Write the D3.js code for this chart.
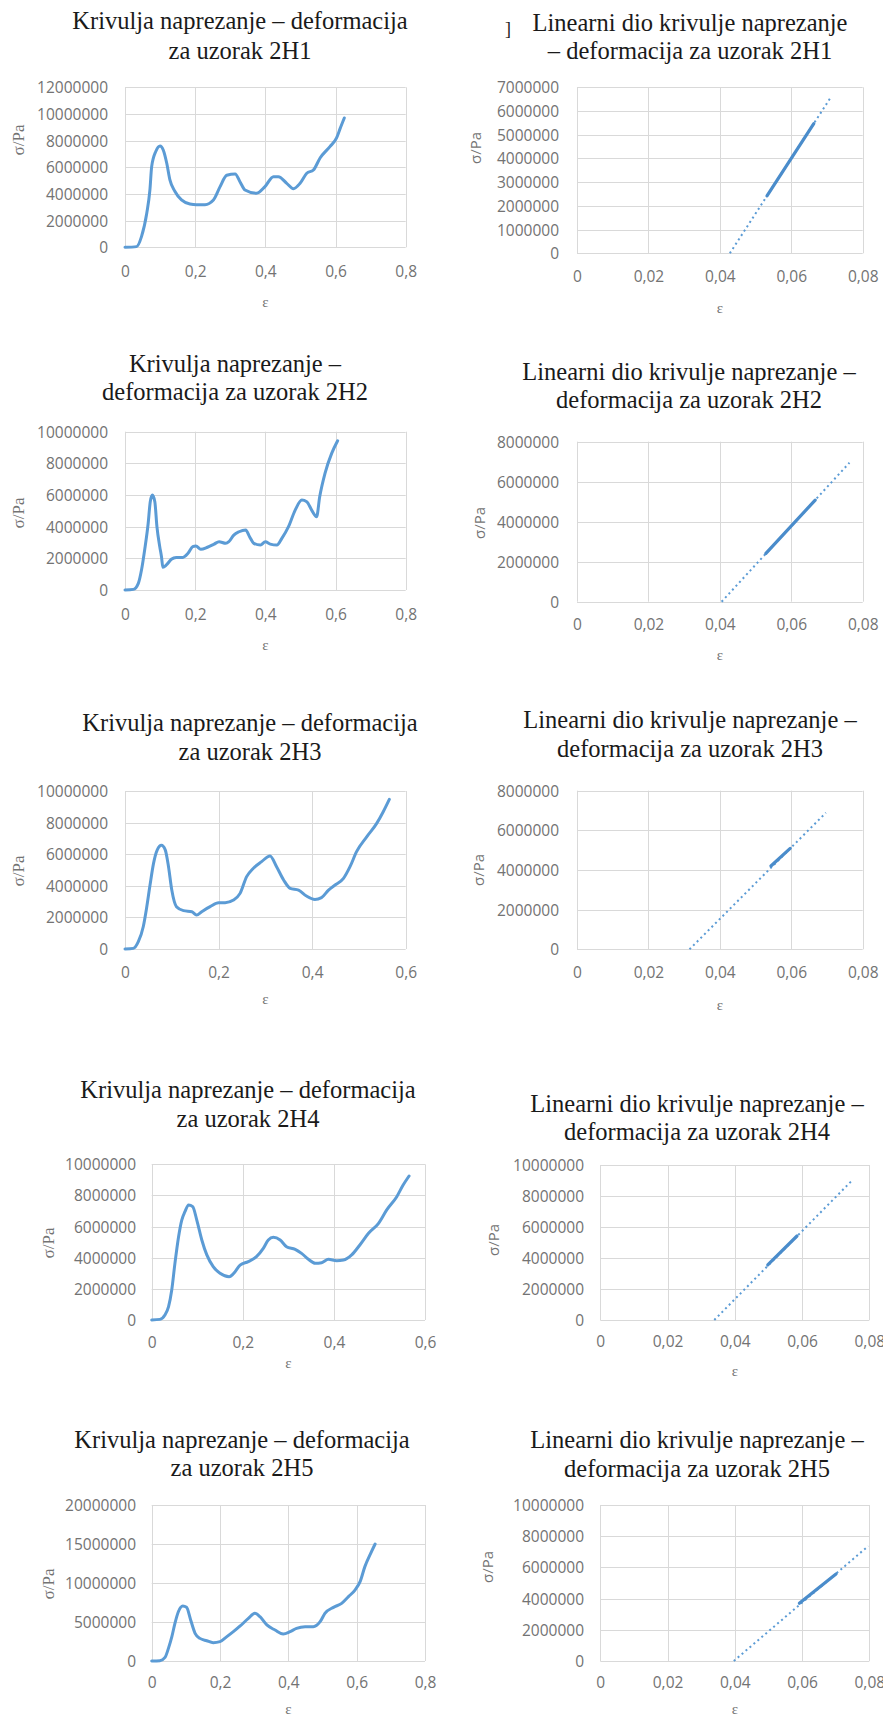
<!DOCTYPE html>
<html><head><meta charset="utf-8">
<script src="https://cdn.jsdelivr.net/npm/d3@7"></script>
<style>
html,body{margin:0;padding:0;background:#fff;}
svg{display:block;}
</style></head>
<body>
<svg id="chart" width="883" height="1720"></svg>
<script>
// ---------- DATA ----------
// Full stress-strain curves (strain ε, stress σ in Pa)
const h1Strain = [0,0.033,0.047,0.062,0.071,0.076,0.088,0.1,0.109,0.119,0.128,0.142,0.161,0.185,0.204,0.228,0.252,0.271,0.29,0.314,0.328,0.342,0.375,0.399,0.423,0.437,0.461,0.48,0.499,0.518,0.537,0.556,0.584,0.603,0.613,0.625];
const h1Stress = [0,0.05e6,0.8e6,2.55e6,4.3e6,6.05e6,7.2e6,7.6e6,7.3e6,6.3e6,5.05e6,4.2e6,3.55e6,3.25e6,3.2e6,3.2e6,3.55e6,4.55e6,5.4e6,5.5e6,4.9e6,4.3e6,4.05e6,4.55e6,5.3e6,5.3e6,4.8e6,4.4e6,4.8e6,5.55e6,5.8e6,6.7e6,7.55e6,8.2e6,8.9e6,9.7e6];

const h2Strain = [0,0.024,0.038,0.047,0.056,0.066,0.072,0.078,0.085,0.091,0.099,0.104,0.108,0.118,0.132,0.146,0.165,0.179,0.193,0.202,0.216,0.235,0.254,0.268,0.287,0.296,0.31,0.325,0.344,0.355,0.367,0.386,0.4,0.414,0.433,0.447,0.466,0.485,0.504,0.518,0.532,0.546,0.555,0.57,0.589,0.606];
const h2Stress = [0,0.04e6,0.42e6,1.26e6,2.53e6,4.2e6,5.58e6,6.0e6,5.58e6,4.0e6,2.74e6,2.1e6,1.43e6,1.58e6,1.94e6,2.06e6,2.06e6,2.3e6,2.74e6,2.78e6,2.57e6,2.7e6,2.9e6,3.05e6,2.95e6,3.05e6,3.47e6,3.68e6,3.79e6,3.37e6,2.95e6,2.84e6,3.05e6,2.9e6,2.84e6,3.26e6,4.0e6,5.05e6,5.68e6,5.58e6,5.05e6,4.63e6,5.9e6,7.37e6,8.63e6,9.43e6];

const h3Strain = [0,0.018,0.0285,0.039,0.046,0.053,0.061,0.069,0.078,0.086,0.093,0.1,0.11,0.125,0.143,0.153,0.164,0.182,0.2,0.214,0.232,0.246,0.26,0.274,0.292,0.31,0.324,0.339,0.353,0.371,0.388,0.406,0.42,0.435,0.449,0.467,0.481,0.495,0.517,0.538,0.552,0.565];
const h3Stress = [0,0.04e6,0.46e6,1.41e6,2.57e6,3.95e6,5.42e6,6.27e6,6.56e6,6.27e6,5.21e6,3.73e6,2.68e6,2.43e6,2.36e6,2.15e6,2.36e6,2.68e6,2.93e6,2.93e6,3.1e6,3.52e6,4.58e6,5.1e6,5.53e6,5.89e6,5.21e6,4.37e6,3.84e6,3.73e6,3.35e6,3.14e6,3.25e6,3.73e6,4.05e6,4.47e6,5.21e6,6.16e6,7.11e6,7.95e6,8.69e6,9.47e6];

const h4Strain = [0,0.018,0.029,0.037,0.044,0.051,0.059,0.066,0.073,0.081,0.09,0.099,0.11,0.121,0.135,0.15,0.17,0.179,0.194,0.212,0.23,0.245,0.256,0.267,0.282,0.296,0.315,0.329,0.344,0.359,0.373,0.388,0.406,0.421,0.439,0.457,0.476,0.498,0.516,0.538,0.552,0.565];
const h4Stress = [0,0.04e6,0.32e6,0.86e6,1.93e6,3.64e6,5.35e6,6.42e6,6.96e6,7.39e6,7.28e6,6.42e6,5.14e6,4.18e6,3.43e6,3.0e6,2.78e6,2.96e6,3.53e6,3.75e6,4.07e6,4.6e6,5.14e6,5.31e6,5.14e6,4.71e6,4.54e6,4.28e6,3.9e6,3.64e6,3.68e6,3.9e6,3.81e6,3.85e6,4.18e6,4.82e6,5.57e6,6.21e6,7.07e6,7.92e6,8.67e6,9.25e6];

const h5Strain = [0,0.024,0.039,0.049,0.059,0.068,0.078,0.091,0.102,0.114,0.127,0.141,0.161,0.18,0.2,0.22,0.239,0.259,0.283,0.302,0.317,0.337,0.361,0.385,0.405,0.424,0.449,0.473,0.493,0.507,0.532,0.556,0.576,0.595,0.61,0.624,0.641,0.654];
const h5Stress = [0,0.04e6,0.47e6,1.62e6,3.12e6,4.83e6,6.32e6,7.05e6,6.88e6,5.26e6,3.55e6,2.9e6,2.6e6,2.35e6,2.48e6,3.12e6,3.76e6,4.49e6,5.47e6,6.11e6,5.68e6,4.62e6,3.97e6,3.46e6,3.76e6,4.19e6,4.4e6,4.4e6,5.04e6,6.11e6,6.88e6,7.39e6,8.25e6,9.1e6,10.17e6,12.1e6,13.8e6,15.0e6];

// Linear parts: measured segment [start, end] and linear trendline [start, end]
const lin1SegStrain = [0.0532,0.0663], lin1SegStress = [2.42e6,5.47e6];
const lin1TrendStrain = [0.0428,0.0709], lin1TrendStress = [0,6.54e6];
const lin2SegStrain = [0.0529,0.0667], lin2SegStress = [2.42e6,5.08e6];
const lin2TrendStrain = [0.0405,0.0763], lin2TrendStress = [0,6.95e6];
const lin3SegStrain = [0.0543,0.0597], lin3SegStress = [4.2e6,5.09e6];
const lin3TrendStrain = [0.0315,0.0697], lin3TrendStress = [0,6.89e6];
const lin4SegStrain = [0.0498,0.0585], lin4SegStress = [3.55e6,5.42e6];
const lin4TrendStrain = [0.0339,0.075], lin4TrendStress = [0,9.03e6];
const lin5SegStrain = [0.0592,0.0701], lin5SegStress = [3.7e6,5.58e6];
const lin5TrendStrain = [0.0397,0.0797], lin5TrendStress = [0,7.37e6];

// Tick values
const xTicksFull8 = [0,0.2,0.4,0.6,0.8];
const xTicksFull6 = [0,0.2,0.4,0.6];
const xTicksLin = [0,0.02,0.04,0.06,0.08];
const yTicks12M = [0,2e6,4e6,6e6,8e6,10e6,12e6];
const yTicks10M = [0,2e6,4e6,6e6,8e6,10e6];
const yTicks8M = [0,2e6,4e6,6e6,8e6];
const yTicks7M = [0,1e6,2e6,3e6,4e6,5e6,6e6,7e6];
const yTicks20M = [0,5e6,10e6,15e6,20e6];

// Titles
const titles = [
  ["Krivulja naprezanje – deformacija","za uzorak 2H1"],
  ["Linearni dio krivulje naprezanje","– deformacija za uzorak 2H1"],
  ["Krivulja naprezanje –","deformacija za uzorak 2H2"],
  ["Linearni dio krivulje naprezanje –","deformacija za uzorak 2H2"],
  ["Krivulja naprezanje – deformacija","za uzorak 2H3"],
  ["Linearni dio krivulje naprezanje –","deformacija za uzorak 2H3"],
  ["Krivulja naprezanje – deformacija","za uzorak 2H4"],
  ["Linearni dio krivulje naprezanje –","deformacija za uzorak 2H4"],
  ["Krivulja naprezanje – deformacija","za uzorak 2H5"],
  ["Linearni dio krivulje naprezanje –","deformacija za uzorak 2H5"]
];
const xAxisTitle = "ε";
const yAxisTitle = "σ/Pa";

// ---------- LAYOUT ----------
const panels = [
  {kind:"full", sx:h1Strain, sy:h1Stress, xt:xTicksFull8, yt:yTicks12M, L:125, R:405.7, T:87.3, B:247.3, yl:108, xl:272, eps:302, tx:240, tb:[29,59], sig:[18,140]},
  {kind:"lin", seg:[lin1SegStrain,lin1SegStress], tr:[lin1TrendStrain,lin1TrendStress], xt:xTicksLin, yt:yTicks7M, L:577, R:862.7, T:87.3, B:253.3, yl:559, xl:277, eps:308, tx:690, tb:[31,59], sig:[476,148]},
  {kind:"full", sx:h2Strain, sy:h2Stress, xt:xTicksFull8, yt:yTicks10M, L:125, R:405.7, T:431.7, B:590, yl:108, xl:615, eps:645, tx:235, tb:[372,400], sig:[18,513]},
  {kind:"lin", seg:[lin2SegStrain,lin2SegStress], tr:[lin2TrendStrain,lin2TrendStress], xt:xTicksLin, yt:yTicks8M, L:577, R:862.7, T:441.7, B:601.7, yl:559, xl:625, eps:655, tx:689, tb:[380,408], sig:[480,523]},
  {kind:"full", sx:h3Strain, sy:h3Stress, xt:xTicksFull6, yt:yTicks10M, L:125, R:405.7, T:791, B:949, yl:108, xl:973, eps:999, tx:250, tb:[731,760], sig:[18,871]},
  {kind:"lin", seg:[lin3SegStrain,lin3SegStress], tr:[lin3TrendStrain,lin3TrendStress], xt:xTicksLin, yt:yTicks8M, L:577, R:862.7, T:790.7, B:949.3, yl:559, xl:973, eps:1005, tx:690, tb:[728,757], sig:[479,870]},
  {kind:"full", sx:h4Strain, sy:h4Stress, xt:xTicksFull6, yt:yTicks10M, L:151.7, R:425, T:1164.3, B:1320, yl:136, xl:1343, eps:1363, tx:248, tb:[1098,1127], sig:[48,1243]},
  {kind:"lin", seg:[lin4SegStrain,lin4SegStress], tr:[lin4TrendStrain,lin4TrendStress], xt:xTicksLin, yt:yTicks10M, L:600.3, R:869.3, T:1165, B:1320, yl:584, xl:1342, eps:1371, tx:697, tb:[1112,1140], sig:[494,1240]},
  {kind:"full", sx:h5Strain, sy:h5Stress, xt:xTicksFull8, yt:yTicks20M, L:151.7, R:425, T:1505, B:1661, yl:136, xl:1683, eps:1709, tx:242, tb:[1448,1476], sig:[48,1584]},
  {kind:"lin", seg:[lin5SegStrain,lin5SegStress], tr:[lin5TrendStrain,lin5TrendStress], xt:xTicksLin, yt:yTicks10M, L:600.3, R:869.3, T:1505, B:1661, yl:584, xl:1683, eps:1709, tx:697, tb:[1448,1477], sig:[488,1567]}
];

const BLUE = "#5b9bd5";
const GRID = "#d9d9d9";
const TICKC = "#737373";
const TICKFONT = "'Open Sans', sans-serif";
const TITLEFONT = "'Liberation Serif', 'Times New Roman', serif";

const svg = d3.select("#chart");
const fmtY = d3.format("d");
const fmtX = v => v === 0 ? "0" : d3.format(v < 0.1 ? ".2f" : ".1f")(v).replace(".", ",");

panels.forEach((p, i) => {
  const g = svg.append("g");
  const x = d3.scaleLinear().domain([0, d3.max(p.xt)]).range([p.L, p.R]);
  const y = d3.scaleLinear().domain([0, d3.max(p.yt)]).range([p.B, p.T]);

  // gridlines
  g.append("g").selectAll("line.h").data(p.yt).join("line")
    .attr("x1", p.L).attr("x2", p.R)
    .attr("y1", d => Math.round(y(d)) + 0.5).attr("y2", d => Math.round(y(d)) + 0.5)
    .attr("stroke", GRID).attr("stroke-width", 1);
  g.append("g").selectAll("line.v").data(p.xt).join("line")
    .attr("y1", p.T).attr("y2", p.B)
    .attr("x1", d => Math.round(x(d)) + 0.5).attr("x2", d => Math.round(x(d)) + 0.5)
    .attr("stroke", GRID).attr("stroke-width", 1);

  // axes via d3 axis generators (labels only)
  const ya = d3.axisLeft(y).tickValues(p.yt).tickFormat(fmtY).tickSize(0).tickPadding(0);
  const yg = g.append("g").attr("transform", `translate(${p.yl},0)`).call(ya);
  yg.select(".domain").remove();
  yg.selectAll("text").attr("fill", TICKC).style("font-family", TICKFONT).style("font-size", "15.5px").attr("dy", "0.35em");

  const xa = d3.axisBottom(x).tickValues(p.xt).tickFormat(fmtX).tickSize(0).tickPadding(0);
  const xg = g.append("g").attr("transform", `translate(0,${p.xl})`).call(xa);
  xg.select(".domain").remove();
  xg.selectAll("text").attr("fill", TICKC).style("font-family", TICKFONT).style("font-size", "15.5px").attr("dy", "0.35em").attr("y", 0);

  // series
  if (p.kind === "full") {
    const pts = p.sx.map((v, k) => [v, p.sy[k]]);
    g.append("path").datum(pts)
      .attr("fill", "none").attr("stroke", BLUE).attr("stroke-width", 3)
      .attr("stroke-linejoin", "round").attr("stroke-linecap", "round")
      .attr("d", d3.line().x(d => x(d[0])).y(d => y(d[1])).curve(d3.curveMonotoneX));
  } else {
    const tr = p.tr[0].map((v, k) => [v, p.tr[1][k]]);
    g.append("path").datum(tr)
      .attr("fill", "none").attr("stroke", BLUE).attr("stroke-width", 2)
      .attr("stroke-dasharray", "2,3.2")
      .attr("d", d3.line().x(d => x(d[0])).y(d => y(d[1])));
    const sg = p.seg[0].map((v, k) => [v, p.seg[1][k]]);
    g.append("path").datum(sg)
      .attr("fill", "none").attr("stroke", "#4a8ccb").attr("stroke-width", 3.2)
      .attr("stroke-linecap", "round")
      .attr("d", d3.line().x(d => x(d[0])).y(d => y(d[1])));
  }

  // titles
  const t = g.append("text").attr("text-anchor", "middle")
    .style("font-family", TITLEFONT).style("font-size", "24.5px").attr("fill", "#1a1a1a");
  titles[i].forEach((line, k) => {
    t.append("tspan").attr("x", p.tx).attr("y", p.tb[k]).text(line);
  });

  // axis titles
  g.append("text").attr("x", (p.L + p.R) / 2).attr("y", p.eps).attr("dy", "0.35em")
    .attr("text-anchor", "middle").attr("fill", TICKC)
    .style("font-family", TITLEFONT).style("font-size", "15px").text(xAxisTitle);
  g.append("text").attr("transform", `translate(${p.sig[0]},${p.sig[1]}) rotate(-90)`)
    .attr("dy", "0.35em").attr("text-anchor", "middle").attr("fill", TICKC)
    .style("font-family", p.kind === "full" ? TITLEFONT : TICKFONT)
    .style("font-size", p.kind === "full" ? "17px" : "15px").text(yAxisTitle);
});

// stray bracket next to the second title
svg.append("text").attr("x", 508).attr("y", 35).attr("text-anchor", "middle")
  .style("font-family", TITLEFONT).style("font-size", "18px").attr("fill", "#1a1a1a").text("]");
</script>
</body></html>
